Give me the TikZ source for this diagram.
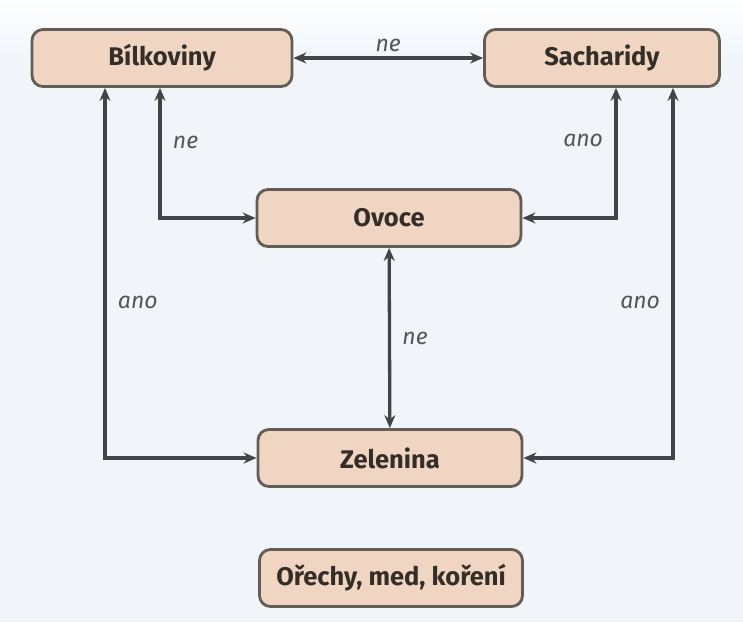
\documentclass[tikz,border=0pt]{standalone}
\usepackage{fontspec}
\setmainfont{Fira Sans}
\usetikzlibrary{arrows.meta}

\definecolor{boxfill}{RGB}{240,214,194}
\definecolor{boxline}{RGB}{100,92,86}
\definecolor{boxtext}{RGB}{52,45,40}
\definecolor{arrline}{RGB}{66,68,70}
\definecolor{lbltext}{RGB}{85,85,88}
\definecolor{bgblue}{RGB}{241,245,250}

\tikzset{
  food/.style={draw=boxline, fill=boxfill, line width=2.8pt, rounded corners=11pt,
    text=boxtext, font=\fontsize{25.5}{30}\selectfont\bfseries, inner sep=0pt},
  arr/.style={draw=arrline, line width=3.3pt,
    {Stealth[length=13pt,width=11pt]}-{Stealth[length=13pt,width=11pt]}},
  lbl/.style={text=lbltext, font=\fontsize{23}{27}\selectfont\itshape}
}

\begin{document}
\begin{tikzpicture}[x=1pt, y=-1pt]
    % Background
    \fill[bgblue] (0,0) rectangle (743,622);
    \shade[top color=white, bottom color=bgblue] (0,0) rectangle (743,60);
    \useasboundingbox (0,0) rectangle (743,622);
    % Boxes
    \node[food, minimum width=260pt, minimum height=57pt] (bilk) at (162,58) {Bílkoviny};
    \node[food, minimum width=235pt, minimum height=57pt] (sach) at (602,58) {Sacharidy};
    \node[food, minimum width=264pt, minimum height=57pt] (ovoce) at (389,218) {Ovoce};
    \node[food, minimum width=264pt, minimum height=57pt] (zel) at (390,458) {Zelenina};
    \node[food, minimum width=263pt, minimum height=57pt] (orech) at (391,578) {Ořechy, med, koření};
    % Corner points of the side lines
    \coordinate (lo) at (105,458);
    \coordinate (li) at (160,218);
    \coordinate (ri) at (616,218);
    \coordinate (ro) at (673,458);
    % Arrows
    \draw[arr] (bilk) -- (sach)
    node[lbl, midway, above=1pt] {ne};
    \draw[arr] (bilk.south -| lo) |- (zel.west)
    node[lbl, pos=0.29, right=8pt] {ano};
    \draw[arr] (bilk.south -| li) |- (ovoce.west)
    node[lbl, pos=0.21, right=8pt] {ne};
    \draw[arr] (sach.south -| ri) |- (ovoce.east)
    node[lbl, pos=0.2, left=8pt] {ano};
    \draw[arr] (sach.south -| ro) |- (zel.east)
    node[lbl, pos=0.29, left=8pt] {ano};
    \draw[arr] (ovoce) -- (zel)
    node[lbl, midway, right=8pt] {ne};
\end{tikzpicture}
\end{document}
